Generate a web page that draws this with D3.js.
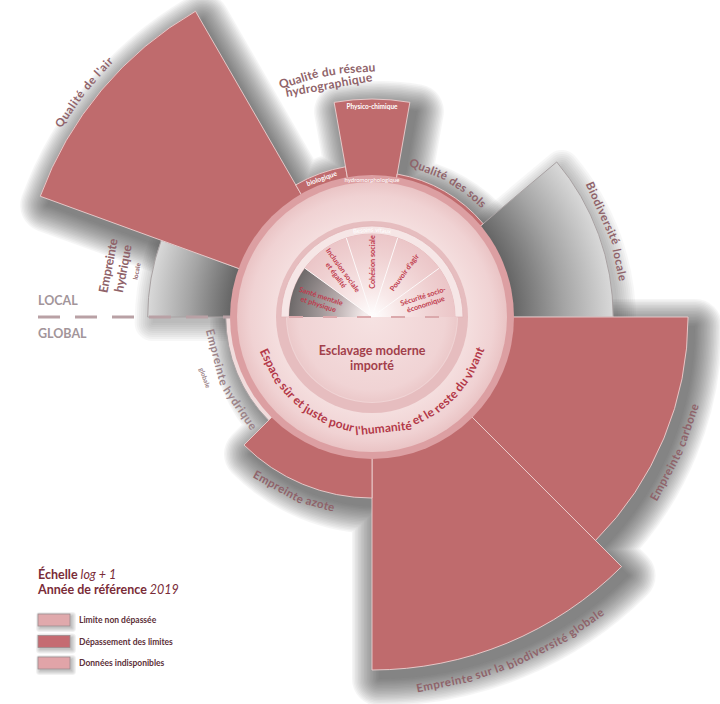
<!DOCTYPE html>
<html>
<head>
<meta charset="utf-8">
<script src="https://cdn.jsdelivr.net/npm/d3@7"></script>
<style>
  body { margin: 0; background: #ffffff; }
  svg { display: block; }
</style>
</head>
<body>
<svg id="chart" width="720" height="704"></svg>
<script>
// ---------------------------------------------------------------
// Ecological ceiling: sectors (in 20° units from due west, clockwise)
// and overshoot beyond the ceiling (0 = at the ceiling, 1 = largest)
// ---------------------------------------------------------------
const ecoKeys        = ["hydriqueLocale", "air", "biologique", "physico", "sols", "biodivLocale",
                        "carbone", "biodivGlobale", "azote", "hydriqueGlobale"];
const ecoSectorStart = [0, 1, 3, 4, 5, 7, 9, 11.25, 13.5, 15.75];
const ecoSectorEnd   = [1, 3, 4, 5, 7, 9, 11.25, 13.5, 15.75, 18];
const ecoOvershoot   = [0.39, 1.0, 0.05, 0.36, 0.015, 0.47, 0.825, 1.0, 0.185, 0.02];
const ecoStatus      = ["na", "over", "over", "over", "over", "na", "over", "over", "over", "na"];

// Social foundation (upper half of the inner disc)
const socialLabels = [["Santé mentale", "et physique"], ["Inclusion sociale", "et égalité"],
                      ["Cohésion sociale"], ["Pouvoir d'agir"], ["Sécurité socio-", "économique"]];
const socialStatus = ["na", "ok", "ok", "ok", "ok"];
const socialBand   = "Besoins vitaux";
const globalSocial = ["Esclavage moderne", "importé"];

// Legend
const legendTitle  = [["Échelle", "log + 1"], ["Année de référence", "2019"]];
const legendItems  = ["Limite non dépassée", "Dépassement des limites", "Données indisponibles"];
const legendColors = ["#e0a9ac", "#c56b72", "#e1a4a8"];

// ---------------------------------------------------------------
const cx = 372, cy = 317;
const ceilingR = 142;
const svg = d3.select("#chart");
const defs = svg.append("defs");

const angle = d3.scaleLinear().domain([0, 18]).range([-90, 270]);      // degrees, clockwise from north
const radius = d3.scaleLinear().domain([0, 1]).range([ceilingR, 353]);
const rad = d => d * Math.PI / 180;
const pt = (deg, r) => [cx + r * Math.sin(rad(deg)), cy - r * Math.cos(rad(deg))];

const eco = ecoKeys.map((k, i) => ({
  key: k, a0: angle(ecoSectorStart[i]), a1: angle(ecoSectorEnd[i]),
  r: radius(ecoOvershoot[i]), status: ecoStatus[i]
}));
const byKey = Object.fromEntries(eco.map(d => [d.key, d]));

const arcGen = d3.arc();
const wedge = (a0, a1, r0, r1) => arcGen({startAngle: rad(a0), endAngle: rad(a1), innerRadius: r0, outerRadius: r1});

const FONT = "Lato, 'Open Sans', sans-serif";
const labelColor = "#8f636a";

// ---------------- gradients (centred on the chart origin) ----------------
eco.filter(d => d.status === "na" && d.key !== "hydriqueGlobale").forEach(d => {
  const g = defs.append("radialGradient").attr("id", "grad-" + d.key)
    .attr("gradientUnits", "userSpaceOnUse").attr("cx", 0).attr("cy", 0).attr("r", d.r);
  g.append("stop").attr("offset", ceilingR / d.r).attr("stop-color", "#666666");
  g.append("stop").attr("offset", (ceilingR / d.r + 1) / 2).attr("stop-color", "#a4a4a4");
  g.append("stop").attr("offset", 1).attr("stop-color", "#d9d9d9");
});

function radial(id, r, stops) {
  const g = defs.append("radialGradient").attr("id", id)
    .attr("gradientUnits", "userSpaceOnUse").attr("cx", 0).attr("cy", 0).attr("r", r);
  stops.forEach(([o, c]) => g.append("stop").attr("offset", o).attr("stop-color", c));
}
radial("socialGlow", 84, [[0, "#ffffff"], [0.3, "#f8e9e9"], [0.75, "#efd0d1"], [1, "#ebc5c7"]]);
radial("socialGrey", 84, [[0.1, "#f4ecec"], [0.45, "#b9adae"], [1, "#6c6868"]]);
radial("ringGrad", 135, [[0.68, "#f5e0e0"], [0.9, "#f0d2d3"], [1, "#eac4c5"]]);
radial("lowerDisc", 86, [[0, "#f6e2e2"], [0.85, "#f0d3d4"], [1, "#ebc8c9"]]);

// ---------------- soft drop shadow (stacked translucent outlines) ----------------
// outline of the whole figure: ceiling circle plus every overshooting wedge
const silhouetteSectors = eco.map(d => ({a0: d.a0, a1: d.a1, r: d.status === "over" ? Math.max(d.r, ceilingR) : ceilingR}));
function silhouettePath(secs) {
  let p = "";
  secs.forEach((s, i) => {
    const a = pt(s.a0, s.r), b = pt(s.a1, s.r);
    p += (i === 0 ? "M" : "L") + a + "A" + s.r + "," + s.r + " 0 0 1 " + b;
  });
  return p + "Z";
}
function softShadow(parent, d, dx, dy, spread, step, alpha, color) {
  const g = parent.append("g").attr("transform", `translate(${dx},${dy})`);
  for (let w = spread * 2; w >= 0; w -= step) {
    g.append("path").attr("d", d).attr("fill", color).attr("stroke", color)
      .attr("stroke-width", w).attr("stroke-linejoin", "round").attr("opacity", alpha);
  }
  return g;
}
const shadowLayer = svg.append("g");
softShadow(shadowLayer, silhouettePath(silhouetteSectors), 7, 9, 27, 3, 0.045, "#3a3a3a");
// fainter halo round the grey (unavailable) wedges
eco.filter(d => d.status === "na" && d.r > ceilingR + 10).forEach(d => {
  const g = shadowLayer.append("g").attr("transform", `translate(${cx},${cy})`);
  softShadow(g, wedge(d.a0, d.a1, 0, d.r), 5, 6, 18, 4, 0.035, "#3a3a3a");
});

// ---------------- ecological wedges ----------------
const ecoG = svg.append("g").attr("transform", `translate(${cx},${cy})`);
eco.filter(d => d.status === "na").forEach(d => {
  ecoG.append("path").attr("d", wedge(d.a0, d.a1, 100, d.r))
    .attr("fill", d.key === "hydriqueGlobale" ? "#f1dcdc" : `url(#grad-${d.key})`)
    .attr("stroke", "#a9a2a3").attr("stroke-width", 1);
});
eco.filter(d => d.status === "over").forEach(d => {
  ecoG.append("path").attr("d", wedge(d.a0, d.a1, 100, d.r))
    .attr("fill", "#bf6b6d").attr("stroke", "#ecd0d0").attr("stroke-width", 0.9);
});

// ---------------- safe & just space ring ----------------
const ring = svg.append("g").attr("transform", `translate(${cx},${cy})`);
ring.append("circle").attr("r", ceilingR).attr("fill", "#dc9fa2");
ring.append("circle").attr("r", 135).attr("fill", "url(#ringGrad)");
ring.append("circle").attr("r", 96).attr("fill", "#e6bdbf");
ring.append("circle").attr("r", 86).attr("fill", "#f0d4d5");

// upper half: social wedges
const nSoc = socialLabels.length;
const socAngle = d3.scaleLinear().domain([0, nSoc]).range([-90, 90]);
ring.append("path").attr("d", wedge(-90, 90, 83, 91)).attr("fill", "#f6e6e6")
  .attr("stroke", "#e2b5b7").attr("stroke-width", 0.8);
socialLabels.forEach((lab, i) => {
  ring.append("path").attr("d", wedge(socAngle(i), socAngle(i + 1), 0, 83))
    .attr("fill", socialStatus[i] === "na" ? "url(#socialGrey)" : "url(#socialGlow)");
});
for (let i = 1; i < nSoc; i++) {
  const p = pt(socAngle(i), 83);
  ring.append("line").attr("x1", 0).attr("y1", 0).attr("x2", p[0] - cx).attr("y2", p[1] - cy)
    .attr("stroke", "#ffffff").attr("stroke-width", 1).attr("opacity", 0.85);
}
// lower half: global social indicator
ring.append("path").attr("d", wedge(90, 270, 0, 85)).attr("fill", "url(#lowerDisc)");

// ---------------- dashed LOCAL / GLOBAL divider ----------------
svg.append("line").attr("x1", 38).attr("x2", cx - ceilingR).attr("y1", cy).attr("y2", cy)
  .attr("stroke", "#b9a1a5").attr("stroke-width", 3).attr("stroke-dasharray", "22,15");
svg.append("line").attr("x1", cx - 83).attr("x2", cx + 83).attr("y1", cy).attr("y2", cy)
  .attr("stroke", "#dba9ac").attr("stroke-width", 2).attr("stroke-dasharray", "14,20");

svg.append("text").attr("x", 38).attr("y", 305).text("LOCAL")
  .attr("font-family", FONT).attr("font-weight", 700).attr("font-size", 12.5).attr("fill", "#a2959a");
svg.append("text").attr("x", 38).attr("y", 338).text("GLOBAL")
  .attr("font-family", FONT).attr("font-weight", 700).attr("font-size", 12.5).attr("fill", "#a2959a");

// ---------------- curved labels (one text per word, laid along an arc) ----------------
function arcLabel(txt, theta, r, o = {}) {
  const size = o.size || 11.5, weight = o.weight || 700, color = o.color || labelColor;
  const tmp = svg.append("text").attr("font-family", FONT).attr("font-weight", weight)
    .attr("font-size", size).text(txt);
  let ls = 0;
  if (o.length) {
    const L = tmp.node().getComputedTextLength();
    ls = (o.length - L) / txt.length;
    tmp.attr("letter-spacing", ls);
  }
  const node = tmp.node();
  const total = node.getComputedTextLength();
  const x0 = node.getStartPositionOfChar(0).x;
  const words = [];
  let idx = 0;
  txt.split(" ").forEach(w => {
    const s = node.getStartPositionOfChar(idx).x - x0;
    const e = node.getEndPositionOfChar(idx + w.length - 1).x - x0;
    words.push({w, c: (s + e) / 2 - total / 2});
    idx += w.length + 1;
  });
  tmp.remove();
  const g = svg.append("g").attr("font-family", FONT).attr("font-weight", weight)
    .attr("font-size", size).attr("fill", color).attr("letter-spacing", ls);
  words.forEach(({w, c}) => {
    const a = o.lower ? theta - c / r * 180 / Math.PI : theta + c / r * 180 / Math.PI;
    const p = pt(a, r);
    const rot = o.lower ? a - 180 : a;
    g.append("text").attr("transform", `translate(${p[0]},${p[1]}) rotate(${rot})`)
      .attr("text-anchor", "middle").text(w);
  });
  return g;
}
const mid = d => (d.a0 + d.a1) / 2;

arcLabel("Qualité de l'air", -52, byKey.air.r + 10, {length: 86});
arcLabel("Qualité du réseau", -10.5, byKey.physico.r + 27, {size: 12, length: 97});
arcLabel("hydrographique", -10.5, byKey.physico.r + 14, {size: 12, length: 88});
arcLabel("Physico-chimique", 0, byKey.physico.r - 10, {size: 6.5, color: "#ffffff"});
arcLabel("biologique", mid(byKey.biologique), 145, {size: 6.8, color: "#ffffff"});
arcLabel("hydromorphologique", 0, 135.5, {size: 6, color: "#ffffff", weight: 400});
arcLabel("Qualité des sols", 29.5, byKey.sols.r + 9, {length: 86});
arcLabel("Biodiversité locale", 70, byKey.biodivLocale.r + 8, {length: 104});
arcLabel("Empreinte", -79, byKey.hydriqueLocale.r + 40, {size: 12.5, length: 55});
arcLabel("hydrique", -79, byKey.hydriqueLocale.r + 25, {size: 12.5, length: 48});
arcLabel("locale", -79, byKey.hydriqueLocale.r + 13, {size: 6.5});
arcLabel("Empreinte carbone", 114, byKey.carbone.r + 22, {lower: true, length: 106});
arcLabel("Empreinte sur la biodiversité globale", 157.5, byKey.biodivGlobale.r + 24, {lower: true, length: 206});
arcLabel("Empreinte azote", 204, byKey.azote.r + 17, {lower: true, length: 89});
arcLabel("Empreinte hydrique", 246, byKey.hydriqueGlobale.r + 18, {lower: true, length: 112, color: "#9b8388"});
arcLabel("globale", 250, byKey.hydriqueGlobale.r + 34, {lower: true, size: 6.5, color: "#9b8388"});

arcLabel("Espace sûr et juste pour l'humanité et le reste du vivant", 179.5, 116,
  {lower: true, size: 12, color: "#b33848", length: 298});
arcLabel(socialBand, 0, 85, {size: 6, color: "#ffffff", weight: 400});

// social foundation labels, radial
socialLabels.forEach((lines, i) => {
  const th = (socAngle(i) + socAngle(i + 1)) / 2;
  const rot = th < 0 ? th + 90 : th - 90;
  const p = pt(th, 55);
  const t = svg.append("text").attr("transform", `translate(${p[0]},${p[1]}) rotate(${rot})`)
    .attr("text-anchor", "middle").attr("font-family", FONT).attr("font-weight", 700)
    .attr("font-size", 7.2).attr("fill", "#bf3b4d");
  lines.forEach((ln, j) => {
    t.append("tspan").attr("x", 0).attr("dy", j === 0 ? (lines.length === 1 ? 2.5 : -1.5) : 8.5).text(ln);
  });
});

// global social indicator label
globalSocial.forEach((ln, j) => {
  svg.append("text").attr("x", cx).attr("y", 355 + j * 14.5).attr("text-anchor", "middle")
    .attr("font-family", FONT).attr("font-weight", 700).attr("font-size", 12.5)
    .attr("fill", "#a23f4b").text(ln);
});

// ---------------- legend ----------------
const lg = svg.append("g").attr("font-family", FONT);
legendTitle.forEach((pair, j) => {
  const t = lg.append("text").attr("x", 38).attr("y", 579 + j * 15)
    .attr("font-size", 12.5).attr("fill", "#7a2c38");
  t.append("tspan").attr("font-weight", 700).text(pair[0] + " ");
  t.append("tspan").attr("font-style", "italic").attr("font-weight", 400).text(pair[1]);
});
legendItems.forEach((name, j) => {
  const y = 614 + j * 21.5;
  softShadow(lg, `M38,${y}h32v12h-32Z`, 2, 2, 4, 2, 0.08, "#555");
  lg.append("rect").attr("x", 38).attr("y", y).attr("width", 32).attr("height", 12)
    .attr("fill", legendColors[j]).attr("stroke", "#9c8c8e").attr("stroke-width", 0.8);
  lg.append("text").attr("x", 79).attr("y", y + 9).attr("font-size", 8.5).attr("font-weight", 700)
    .attr("fill", "#5c3038").text(name);
});
</script>
</body>
</html>
